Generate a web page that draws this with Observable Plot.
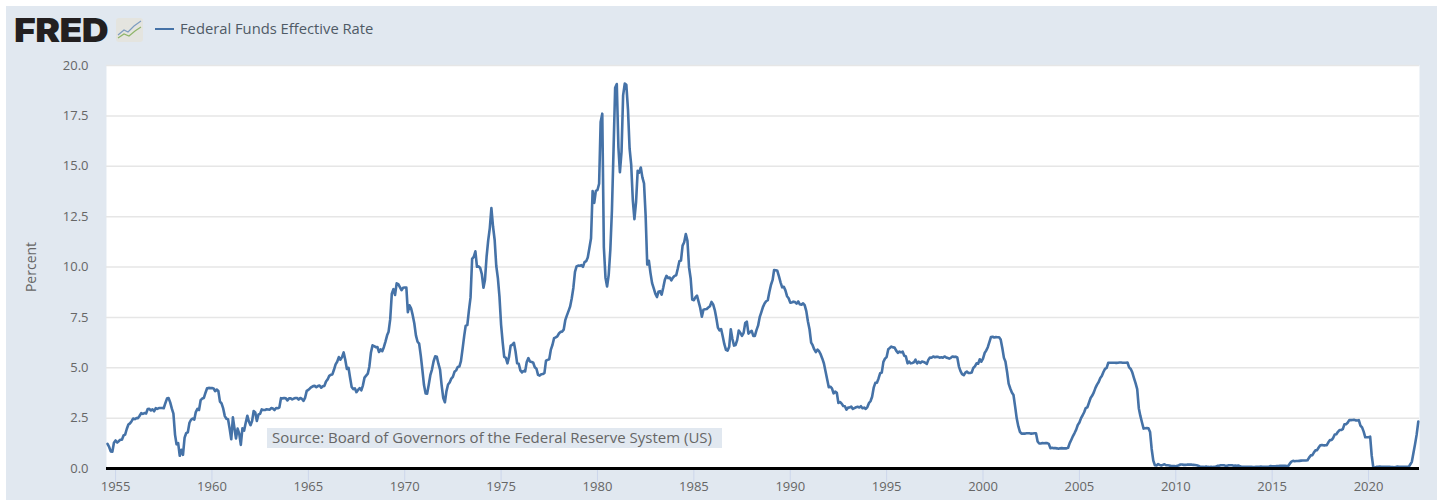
<!DOCTYPE html>
<html><head><meta charset="utf-8">
<script src="https://cdn.jsdelivr.net/npm/d3@7"></script>
<script src="https://cdn.jsdelivr.net/npm/@observablehq/plot@0.6"></script>
<style>
html,body{margin:0;padding:0;background:#fff;overflow:hidden}
body{width:1439px;height:500px;position:relative;font-family:"Open Sans",sans-serif}
#bg{position:absolute;left:6px;top:6px;width:1431px;height:494px;background:#e1e8f0}
#head{position:relative;height:50px}
#logo{position:absolute;left:14px;top:10px;font:900 33px/40px Inter,sans-serif;color:#231f20;letter-spacing:-0.5px;transform:scaleX(1.13);transform-origin:left center}
#icon{position:absolute;left:116px;top:18px}
#key{position:absolute;left:155px;top:28px;width:19px;height:2px;background:#4572a7}
#name{position:absolute;left:180px;top:18px;font-size:14.75px;line-height:20px;color:#4f5a66;white-space:nowrap}
#plot{position:relative}
#plot svg{display:block}
#source{position:absolute;left:267px;top:428px;height:20px;padding-left:5px;box-sizing:border-box;width:455px;background:#e1e8f0;color:#666;font-size:15px;line-height:19px;white-space:nowrap}
</style></head>
<body>
<div id="bg"></div>
<div id="head">
  <div id="logo">FRED</div>
  <svg id="icon" width="27" height="24"><rect width="27" height="24" rx="3" fill="#e4e4df"/><polyline points="2,17 8,12 12,14 18,8 25,3" fill="none" stroke="#7d9cc0" stroke-width="1.2"/><polyline points="2,20 8,16 13,18 19,13 25,9" fill="none" stroke="#8fb56a" stroke-width="1.2"/></svg>
  <div id="key"></div>
  <div id="name">Federal Funds Effective Rate</div>
</div>
<div id="plot"></div>
<div id="source">Source: Board of Governors of the Federal Reserve System (US)</div>
<script>
const seriesName = "Federal Funds Effective Rate";
const yTicks = [0, 2.5, 5, 7.5, 10, 12.5, 15, 17.5, 20];
const xTickYears = [1955,1960,1965,1970,1975,1980,1985,1990,1995,2000,2005,2010,2015,2020];
const xDomain = ["1954-07-13","2022-08-24"];
// Monthly values, first month August 1954
const rates1950s = [1.22,1.07,0.85,0.83,1.28,
1.39,1.29,1.35,1.43,1.43,1.64,1.68,1.96,2.18,2.24,2.35,2.48,
2.45,2.50,2.50,2.62,2.75,2.71,2.75,2.73,2.95,2.96,2.88,2.94,
2.84,3.00,2.96,3.00,3.00,3.00,2.99,3.24,3.47,3.50,3.28,2.98,
2.72,1.67,1.20,1.26,0.63,0.93,0.68,1.53,1.76,1.80,2.27,2.42,
2.48,2.43,2.80,2.96,2.90,3.39,3.47,3.50,3.76,3.98,4.00,3.99];
const rates1960s = [3.99,3.97,3.84,3.92,3.85,3.32,3.23,2.98,2.60,2.47,2.44,1.98,
1.45,2.54,2.02,1.49,1.98,1.73,1.17,2.00,1.88,2.26,2.62,2.33,
2.15,2.37,2.85,2.78,2.36,2.68,2.71,2.93,2.90,2.90,2.94,2.93,
2.92,3.00,2.98,2.90,3.00,2.99,3.02,3.49,3.48,3.50,3.48,3.38,
3.48,3.48,3.43,3.47,3.50,3.50,3.42,3.50,3.45,3.36,3.52,3.85,
3.90,3.98,4.04,4.09,4.10,4.04,4.09,4.12,4.01,4.08,4.10,4.32,
4.42,4.60,4.65,4.67,4.90,5.17,5.30,5.53,5.40,5.53,5.76,5.40,
4.94,5.00,4.53,4.05,3.94,3.98,3.79,3.90,3.99,3.88,4.13,4.51,
4.61,4.71,5.05,5.76,6.11,6.07,6.02,6.03,5.78,5.91,5.82,6.02,
6.30,6.61,6.79,7.41,8.67,8.90,8.61,9.19,9.15,9.00,8.85,8.97];
const rates1970s = [8.98,8.98,7.76,8.10,7.95,7.61,7.21,6.61,6.29,6.20,5.60,4.90,
4.14,3.72,3.71,4.16,4.63,4.91,5.31,5.57,5.55,5.20,4.91,4.14,
3.50,3.29,3.83,4.17,4.27,4.46,4.55,4.80,4.87,5.04,5.06,5.33,
5.94,6.58,7.09,7.12,7.84,8.49,10.40,10.50,10.78,10.01,10.03,9.95,
9.65,8.97,9.35,10.51,11.31,11.93,12.92,12.01,11.34,10.06,9.45,8.53,
7.13,6.24,5.54,5.49,5.22,5.55,6.10,6.14,6.24,5.82,5.22,5.20,
4.87,4.77,4.84,4.82,5.29,5.48,5.31,5.29,5.25,5.02,4.95,4.65,
4.61,4.68,4.69,4.73,5.35,5.39,5.42,5.90,6.14,6.47,6.51,6.56,
6.70,6.78,6.79,6.89,7.36,7.60,7.81,8.04,8.45,8.96,9.76,10.03,
10.07,10.06,10.09,10.01,10.24,10.29,10.47,10.94,11.43,13.77,13.18,13.78];
const rates1980s = [13.82,14.13,17.19,17.61,10.98,9.47,9.03,9.61,10.87,12.81,15.85,18.90,
19.08,15.93,14.70,15.72,18.52,19.10,19.04,17.82,15.87,15.08,13.31,12.37,
13.22,14.78,14.68,14.94,14.45,14.15,12.59,10.12,10.31,9.71,9.20,8.95,
8.68,8.51,8.77,8.80,8.63,8.98,9.37,9.56,9.45,9.48,9.34,9.47,
9.56,9.59,9.91,10.29,10.32,11.06,11.23,11.64,11.30,9.99,9.43,8.38,
8.35,8.50,8.58,8.27,7.97,7.53,7.88,7.90,7.92,7.99,8.05,8.27,
8.14,7.86,7.48,6.99,6.85,6.92,6.56,6.17,5.89,5.85,6.04,6.91,
6.43,6.10,6.13,6.37,6.85,6.73,6.58,6.73,7.22,7.29,6.69,6.77,
6.83,6.58,6.58,6.87,7.09,7.51,7.75,8.01,8.19,8.30,8.35,8.76,
9.12,9.36,9.85,9.84,9.81,9.53,9.24,8.99,9.02,8.84,8.55,8.45];
const rates1990s = [8.23,8.24,8.28,8.26,8.18,8.29,8.15,8.13,8.20,8.11,7.81,7.31,
6.91,6.25,6.12,5.91,5.78,5.90,5.82,5.66,5.45,5.21,4.81,4.43,
4.03,4.06,3.98,3.73,3.82,3.76,3.25,3.30,3.22,3.10,3.09,2.92,
3.02,3.03,3.07,2.96,3.00,3.04,3.06,3.03,3.09,2.99,3.02,2.96,
3.05,3.25,3.34,3.56,4.01,4.25,4.26,4.47,4.73,4.76,5.29,5.45,
5.53,5.92,5.98,6.05,6.01,6.00,5.85,5.74,5.80,5.76,5.80,5.60,
5.56,5.22,5.31,5.22,5.24,5.27,5.40,5.22,5.30,5.24,5.31,5.29,
5.25,5.19,5.39,5.51,5.50,5.56,5.52,5.54,5.54,5.50,5.52,5.50,
5.56,5.51,5.49,5.45,5.49,5.56,5.54,5.55,5.51,5.07,4.83,4.68,
4.63,4.76,4.81,4.74,4.74,4.76,4.99,5.07,5.22,5.20,5.42,5.30];
const rates2000s = [5.45,5.73,5.85,6.02,6.27,6.53,6.54,6.50,6.52,6.51,6.51,6.40,
5.98,5.49,5.31,4.80,4.21,3.97,3.77,3.65,3.07,2.49,2.09,1.82,
1.73,1.74,1.73,1.75,1.75,1.75,1.73,1.74,1.75,1.75,1.34,1.24,
1.24,1.26,1.25,1.26,1.26,1.22,1.01,1.03,1.01,1.01,1.00,0.98,
1.00,1.01,1.00,1.00,1.00,1.03,1.26,1.43,1.61,1.76,1.93,2.16,
2.28,2.50,2.63,2.79,3.00,3.04,3.26,3.50,3.62,3.78,4.00,4.16,
4.29,4.49,4.59,4.79,4.94,4.99,5.24,5.25,5.25,5.25,5.25,5.24,
5.25,5.26,5.26,5.25,5.25,5.25,5.26,5.02,4.94,4.76,4.49,4.24,
3.94,2.98,2.61,2.28,1.98,2.00,2.01,2.00,1.81,0.97,0.39,0.16,
0.15,0.22,0.18,0.15,0.18,0.21,0.16,0.16,0.15,0.12,0.12,0.12];
const rates2010s = [0.11,0.13,0.16,0.20,0.20,0.18,0.18,0.19,0.19,0.19,0.19,0.18,
0.17,0.16,0.14,0.10,0.09,0.09,0.07,0.10,0.08,0.07,0.08,0.07,
0.08,0.10,0.13,0.14,0.16,0.16,0.16,0.13,0.14,0.16,0.16,0.16,
0.14,0.15,0.14,0.15,0.11,0.09,0.09,0.08,0.08,0.09,0.08,0.09,
0.07,0.07,0.08,0.09,0.09,0.10,0.09,0.09,0.09,0.09,0.09,0.12,
0.11,0.11,0.11,0.12,0.12,0.13,0.13,0.14,0.14,0.12,0.12,0.24,
0.34,0.38,0.36,0.37,0.37,0.38,0.39,0.40,0.40,0.40,0.41,0.54,
0.65,0.66,0.79,0.90,0.91,1.04,1.15,1.16,1.15,1.15,1.16,1.30,
1.41,1.42,1.51,1.69,1.70,1.82,1.91,1.91,1.95,2.19,2.20,2.27,
2.40,2.40,2.41,2.42,2.39,2.38,2.40,2.13,2.04,1.83,1.55,1.55];
const rates2020s = [1.55,1.58,0.65,0.05,0.05,0.08,0.09,0.10,0.09,0.09,0.09,0.09,
0.09,0.08,0.07,0.07,0.06,0.08,0.10,0.09,0.08,0.08,0.08,0.08,
0.08,0.08,0.20,0.33,0.77,1.21,1.68,2.33];

const rates = [...rates1950s,...rates1960s,...rates1970s,...rates1980s,...rates1990s,...rates2000s,...rates2010s,...rates2020s];
const table = rates.map((value,i)=>({date:new Date(Date.UTC(1954,7+i,1)),value}));
const tickDates = xTickYears.map(y=>new Date(Date.UTC(y,0,1)));
const textColor = "#666666";

const chart = Plot.plot({
  width:1439, height:450,
  marginLeft:106, marginRight:20, marginTop:15, marginBottom:32,
  style:{background:"transparent",fontFamily:"'Open Sans',sans-serif",fontSize:"13px",color:textColor},
  x:{type:"utc",domain:xDomain.map(d=>new Date(d))},
  y:{domain:[0,20]},
  marks:[
    Plot.frame({fill:"#ffffff",stroke:null}),
    Plot.gridY(yTicks.slice(1),{stroke:"#e6e6e6",strokeOpacity:1,strokeWidth:1.5}),
    Plot.axisX({ticks:tickDates,tickFormat:d=>String(d.getUTCFullYear()),tickSize:14,tickPadding:-1,stroke:"#ccd6eb",fill:textColor,fontSize:13,label:null}),
    Plot.axisY({ticks:yTicks,tickFormat:d3.format(".1f"),tickSize:0,tickPadding:18,fill:textColor,fontSize:13,label:null}),
    Plot.axisY({ticks:[],label:"Percent",labelArrow:false,labelAnchor:"center",labelOffset:80,fill:textColor,fontSize:14}),
    Plot.lineY(table,{x:"date",y:"value",stroke:"#4572a7",strokeWidth:2.6,curve:"linear"}),
    Plot.ruleY([0],{stroke:"#000000",strokeWidth:3})
  ]
});
document.getElementById("plot").appendChild(chart);
</script>
</body></html>
